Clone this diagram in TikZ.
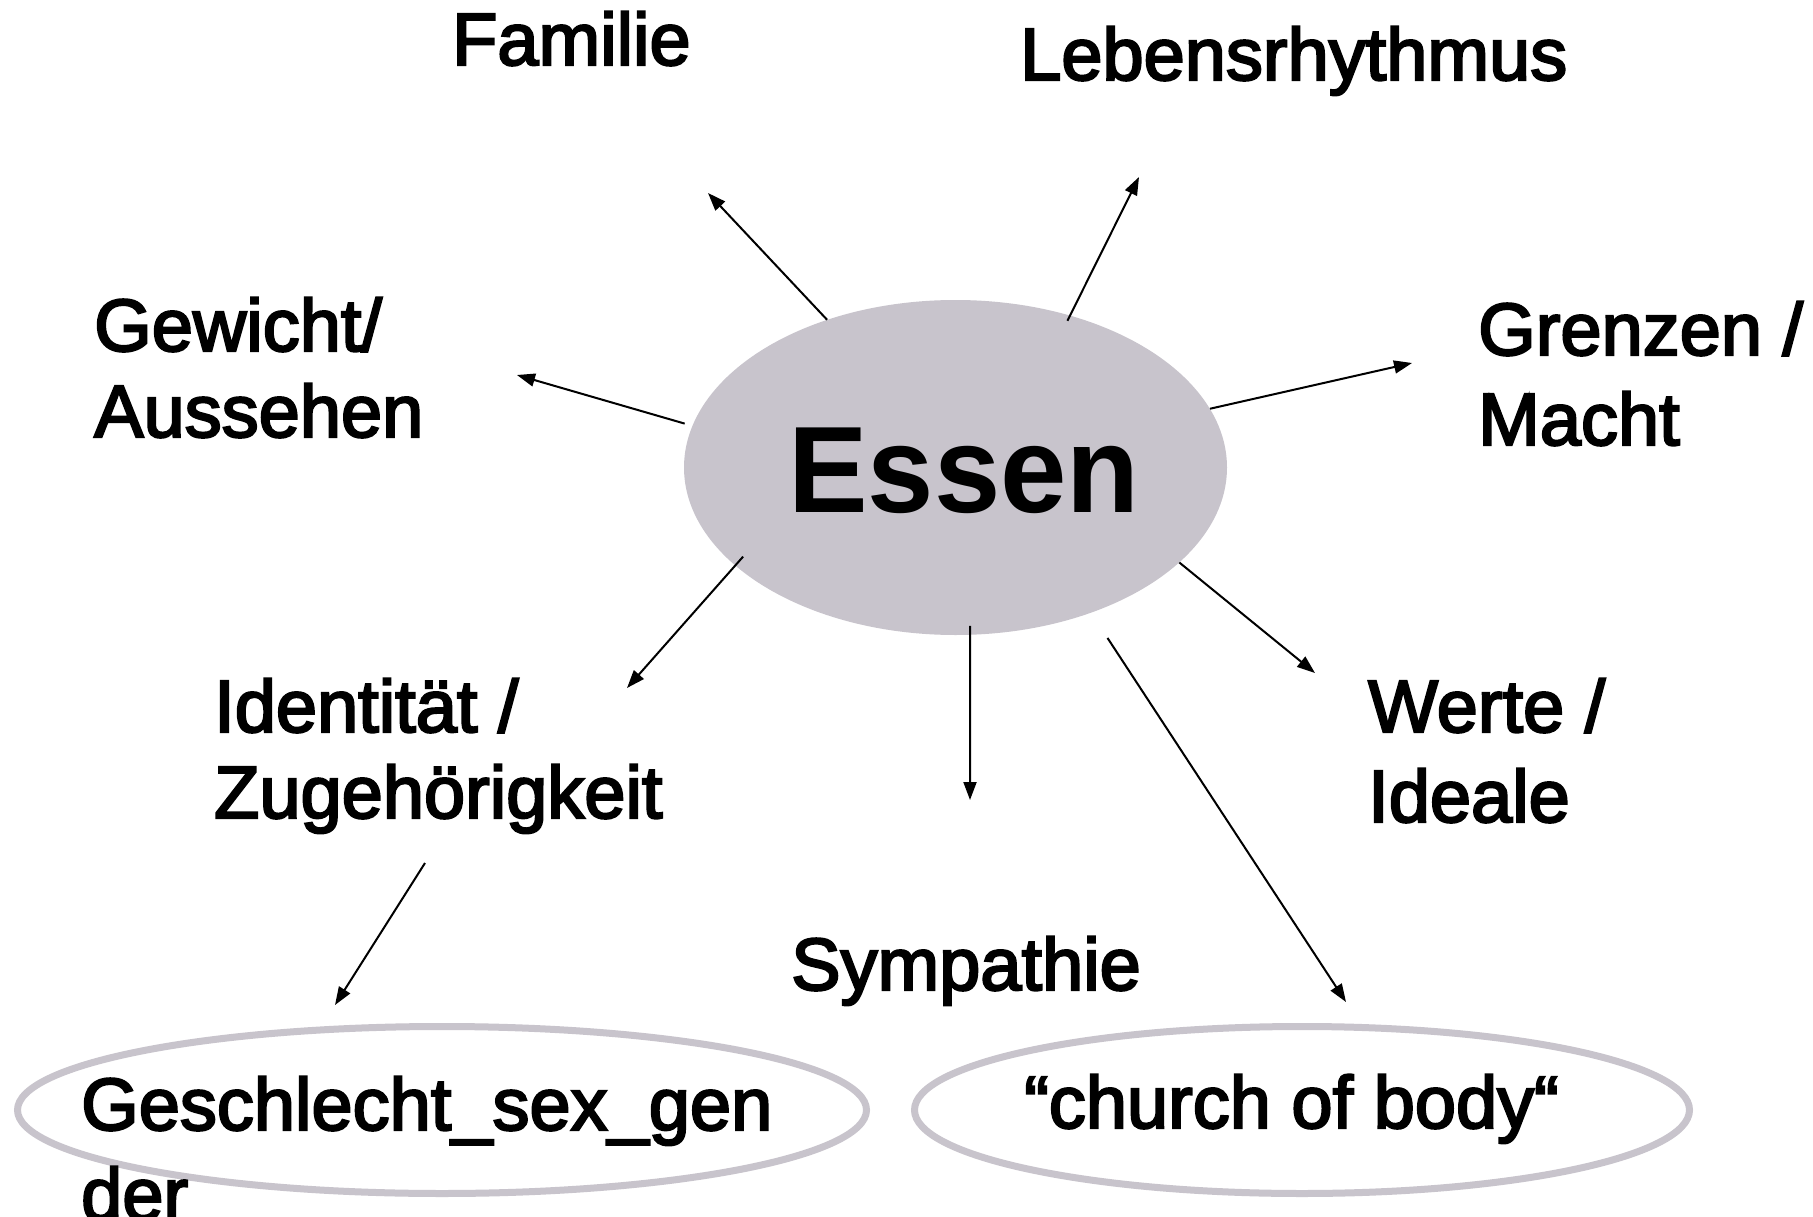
\documentclass[tikz,border=0pt]{standalone}
\usepackage{fontspec}
\setmainfont{Liberation Sans}
\newfontfamily\lblfont[RawFeature={embolden=3}]{Liberation Sans}
\usetikzlibrary{shapes.geometric,arrows.meta}
\definecolor{ellgray}{RGB}{200,196,204}
\newcommand{\twoln}[2]{\begin{tabular}[t]{@{}l@{}}#1\\#2\end{tabular}}
\begin{document}
\begin{tikzpicture}[x=1pt,y=-1pt,
  lbl/.style={inner sep=0pt, anchor=base west, font=\lblfont\fontsize{74}{86}\selectfont},
  lblw/.style={inner sep=0pt, anchor=base west, font=\lblfont\fontsize{74}{90}\selectfont},
  arr/.style={line width=2pt, -{Triangle[length=18pt,width=13pt]}},
  outell/.style={ellipse, draw=ellgray, line width=7pt, inner sep=0pt}]
\useasboundingbox (0,0) rectangle (1813,1217);
\clip (0,0) rectangle (1813,1217);
\fill[white] (0,0) rectangle (1813,1217);

% central ellipse
\node[ellipse, fill=ellgray, minimum width=543pt, minimum height=335pt, inner sep=0pt] (essen) at (955.5,467.5) {};
\node[inner sep=0pt, anchor=base west, font=\fontsize{123}{140}\selectfont\bfseries] (essenlbl) at (788,512) {\scalebox{0.97}[1]{Essen}};

% labels
\node[lbl] (familie) at (452,65) {Familie};
\node[lbl] (leben) at (1020,80) {Lebensrhythmus};
\node[lbl] (gewicht) at (94,351) {\twoln{Gewicht/}{Aussehen}};
\node[lblw] (grenzen) at (1478,355) {\twoln{Grenzen /}{Macht}};
\node[lbl] (ident) at (214,732) {\twoln{Identität /}{Zugehörigkeit}};
\node[lblw] (werte) at (1368,732) {\twoln{Werte /}{Ideale}};
\node[lbl] (sympathie) at (791,990) {Sympathie};

% bottom ellipses
\node[outell, minimum width=849pt, minimum height=167pt] (geschell) at (442,1110) {};
\node[lblw] (geschlbl) at (81,1130) {\twoln{Geschlecht\_sex\_gen}{der}};
\node[outell, minimum width=775pt, minimum height=167pt] (churchell) at (1302,1110) {};
\node[lbl] (churchlbl) at (1024,1128) {“church of body“};

% arrow end points
\coordinate (t1) at (708,193);
\coordinate (t2) at (1139,177);
\coordinate (t3) at (517,375);
\coordinate (t4) at (1412,363);
\coordinate (t5) at (627,688);
\coordinate (t6) at (970,800);
\coordinate (t7) at (1315,673);
\coordinate (t8) at (1346,1002);
\coordinate (s9) at (425,863);
\coordinate (t9) at (335,1005);

% connectors
\draw[arr] (essen.131) -- (t1);
\draw[arr, shorten <=-6pt] (essen.53) -- (t2);
\draw[arr, shorten <=8pt] (essen.171) -- (t3);
\draw[arr] (essen.13) -- (t4);
\draw[arr, shorten <=-12pt] (essen.204) -- (t5);
\draw[arr, shorten <=-9pt] (essen.275) -- (t6);
\draw[arr] (essen.-23) -- (t7);
\draw[arr, shorten <=30pt] (essen.-47) -- (t8);
\draw[arr] (s9) -- (t9);
\end{tikzpicture}
\end{document}
